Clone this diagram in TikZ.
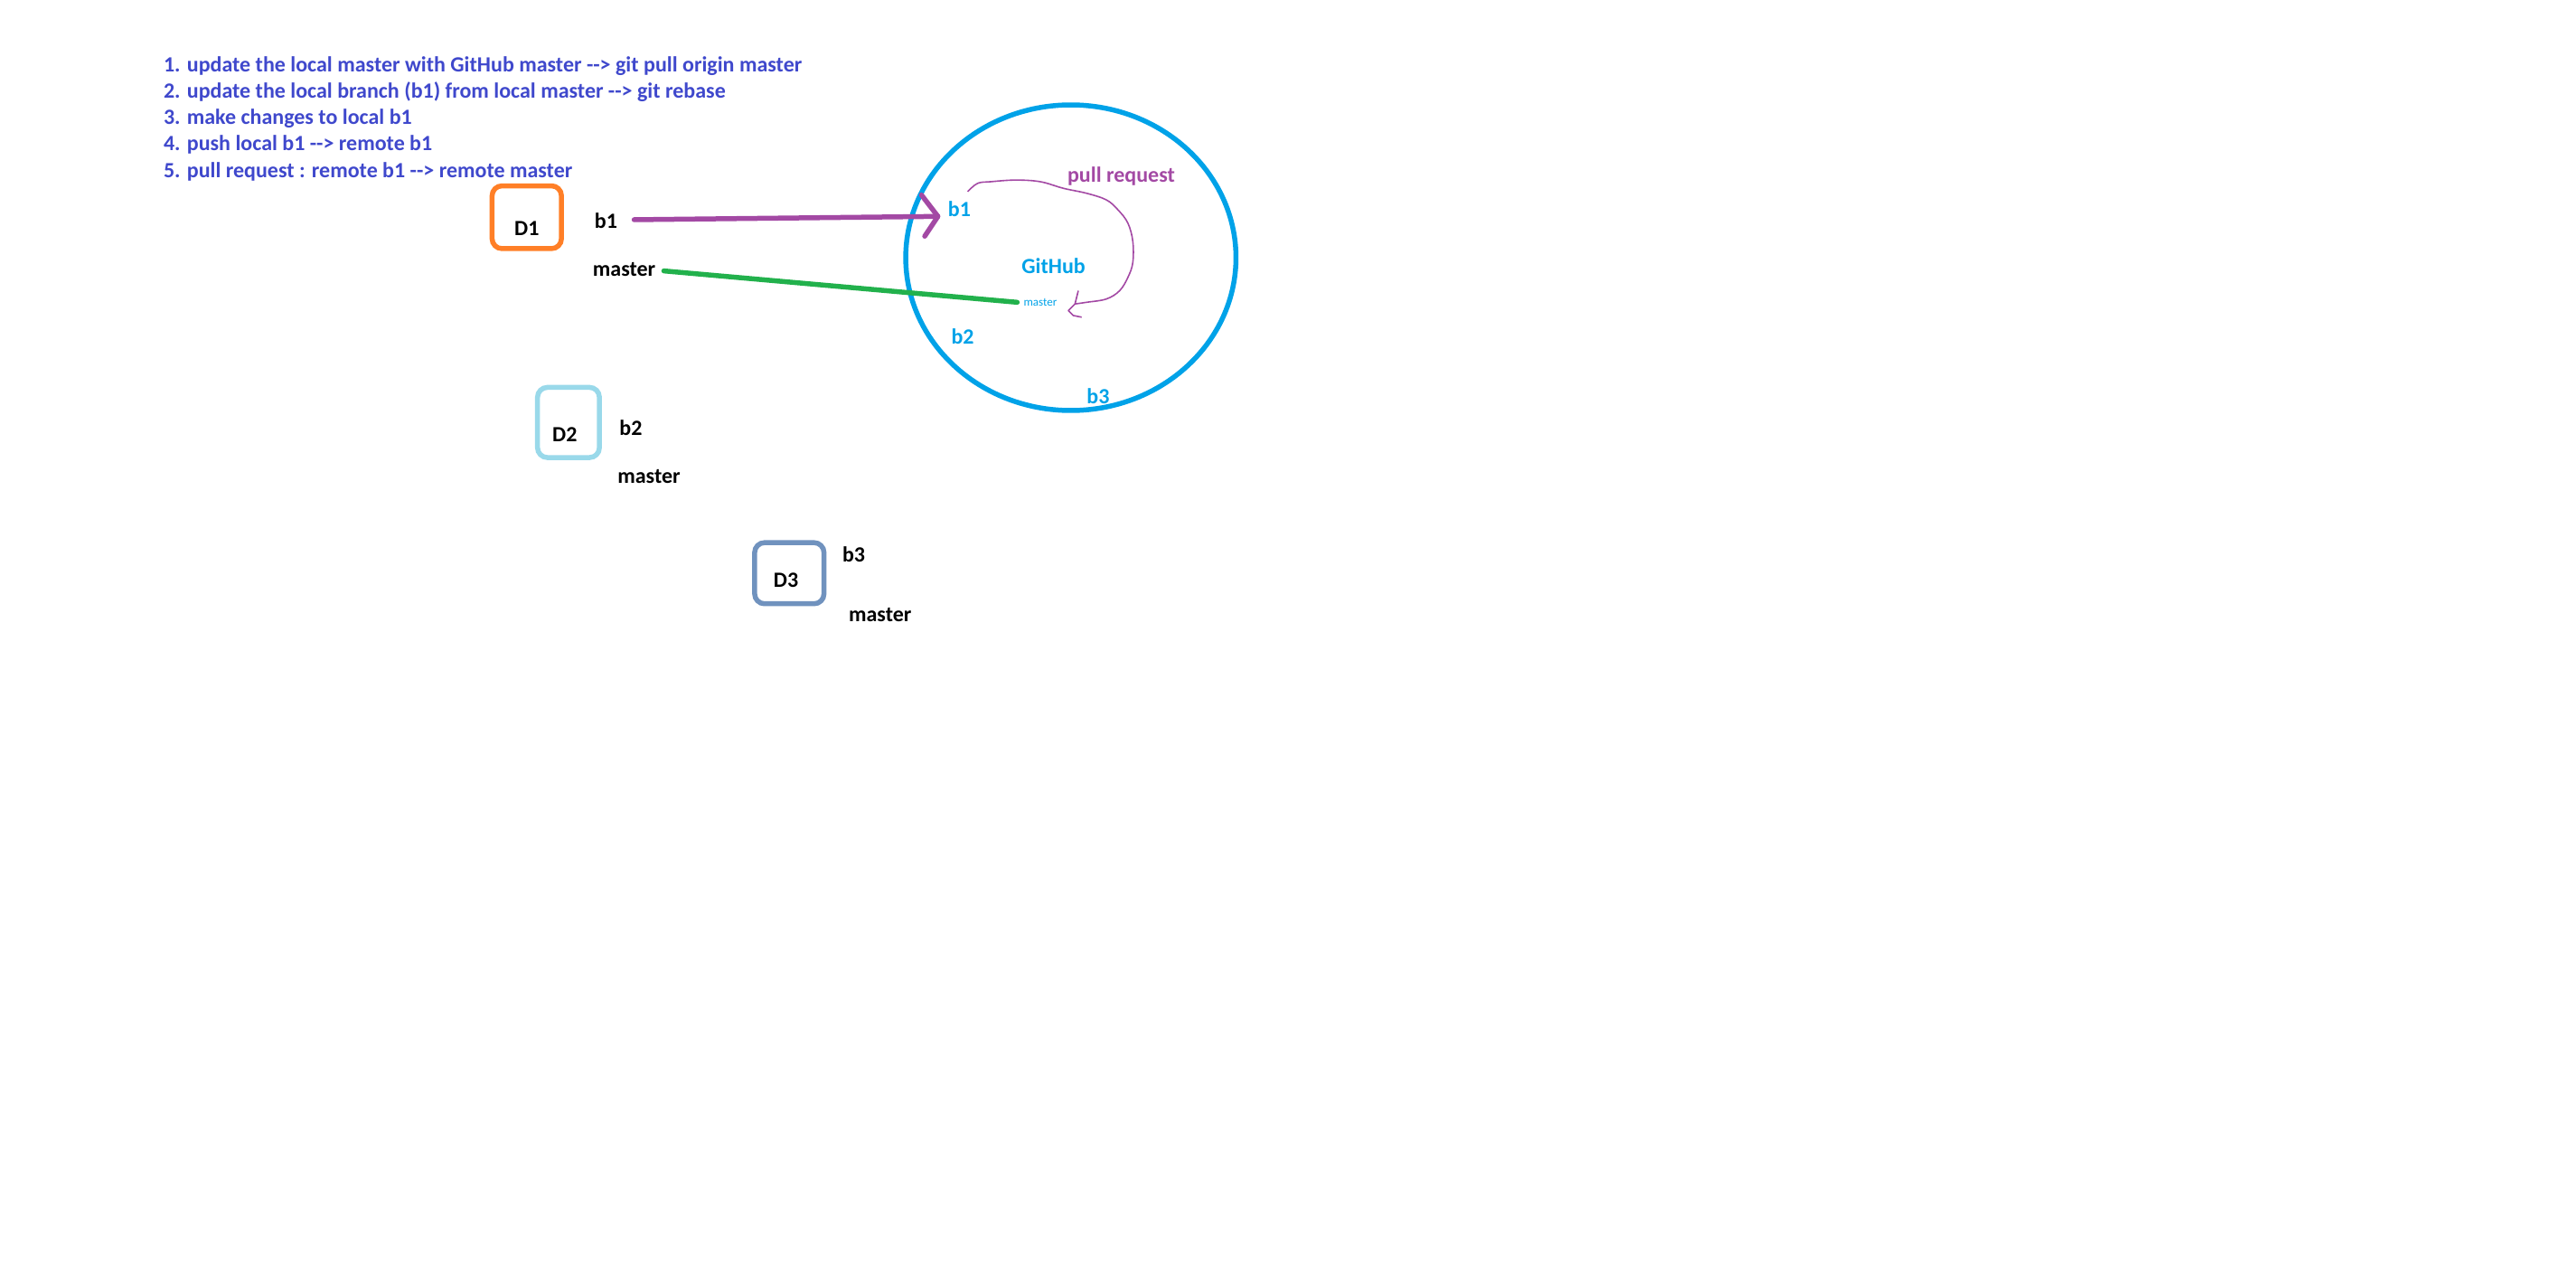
\documentclass[tikz,border=0pt]{standalone}
\usepackage{fontspec}
\usetikzlibrary{shapes.geometric}
\setmainfont{Carlito}[Ligatures=TeXOff]
\definecolor{listblue}{HTML}{3F48CC}
\definecolor{ghcyan}{HTML}{00A2E8}
\definecolor{prpurple}{HTML}{A349A4}
\definecolor{lngreen}{HTML}{22B14C}
\definecolor{dorange}{HTML}{FF7F27}
\definecolor{dlight}{HTML}{99D9EA}
\definecolor{dsteel}{HTML}{7092BE}
\begin{document}
\begin{tikzpicture}[x=1.827pt,y=-1.827pt,
  txt/.style={font=\fontsize{24pt}{29pt}\selectfont\bfseries, inner sep=0pt, yshift=-5.5pt},
  listline/.style={txt, text=listblue, anchor=mid west},
  lbl/.style={txt, text=black, anchor=mid},
  glbl/.style={txt, text=ghcyan, anchor=mid},
  devbox/.style={draw, line width=5.5pt, rounded corners=11pt},
  thick3/.style={line width=5.5pt, line cap=round, line join=round}]
\useasboundingbox (0,0) rectangle (1560,771);
% instruction list
\node[listline] (l1) at (99,39) {1. update the local master with GitHub master --> git pull origin master};
\node[listline] (l2) at (99,55) {2. update the local branch (b1) from local master --> git rebase};
\node[listline] (l3) at (99,71) {3. make changes to local b1};
\node[listline] (l4) at (99,87) {4. push local b1 --> remote b1};
\node[listline] (l5) at (99,103) {5. pull request : remote b1 --> remote master};
% developer boxes
\draw[devbox, dorange] (298,112.5) rectangle (340,150.5);
\node[lbl] (d1) at (319,138) {D1};
\draw[devbox, dlight] (325.5,234.5) rectangle (363,277);
\node[lbl] (d2) at (342,263) {D2};
\draw[devbox, dsteel] (457,328.5) rectangle (499,365.5);
\node[lbl] (d3) at (476,351) {D3};
% local branches
\node[lbl] (lb1) at (367,134) {b1};
\node[lbl] (lm1) at (378,163) {master};
\node[lbl] (lb2) at (382,259) {b2};
\node[lbl] (lm2) at (393,288) {master};
\node[lbl] (lb3) at (517,336) {b3};
\node[lbl] (lm3) at (533,372) {master};
% GitHub circle
\node[draw=ghcyan, line width=5.5pt, ellipse, minimum width=200*1.827pt, minimum height=185*1.827pt, inner sep=0pt] (gh) at (648.5,156) {};
\node[glbl] (gb1) at (581,127) {b1};
\node[glbl] (ghl) at (638,161) {GitHub};
\node[font=\fontsize{13pt}{15pt}\selectfont, text=ghcyan, inner sep=0pt, anchor=mid, yshift=-2pt] (gm) at (630,183) {master};
\node[glbl] (gb2) at (583,204) {b2};
\node[glbl] (gb3) at (665,240) {b3};
\node[txt, text=prpurple, anchor=mid] (pr) at (679,106) {pull request};
% push arrow
\coordinate (ps) at (384,133);
\coordinate (pe) at (568,131);
\draw[thick3, prpurple] (ps) -- (pe);
\draw[thick3, prpurple] (558,118) -- (pe) -- (560,143);
% master link
\coordinate (ms) at (402,164);
\coordinate (me) at (616,183);
\draw[thick3, lngreen] (ms) -- (me);
% pull request curve
\draw[prpurple, line width=1.6pt, line join=round] plot[smooth, tension=0.6] coordinates {(586,116) (592,111) (600,110) (615,109) (630,110) (644,114) (658,117) (670,121) (677,127) (683,135) (686,146) (686,159) (683,168) (678,176) (670,181) (658,183) (651,184)};
\draw[prpurple, line width=1.6pt, line join=round] (653,176) -- (651,184) -- (647,188) -- (650,191) -- (655,192);
\end{tikzpicture}
\end{document}
